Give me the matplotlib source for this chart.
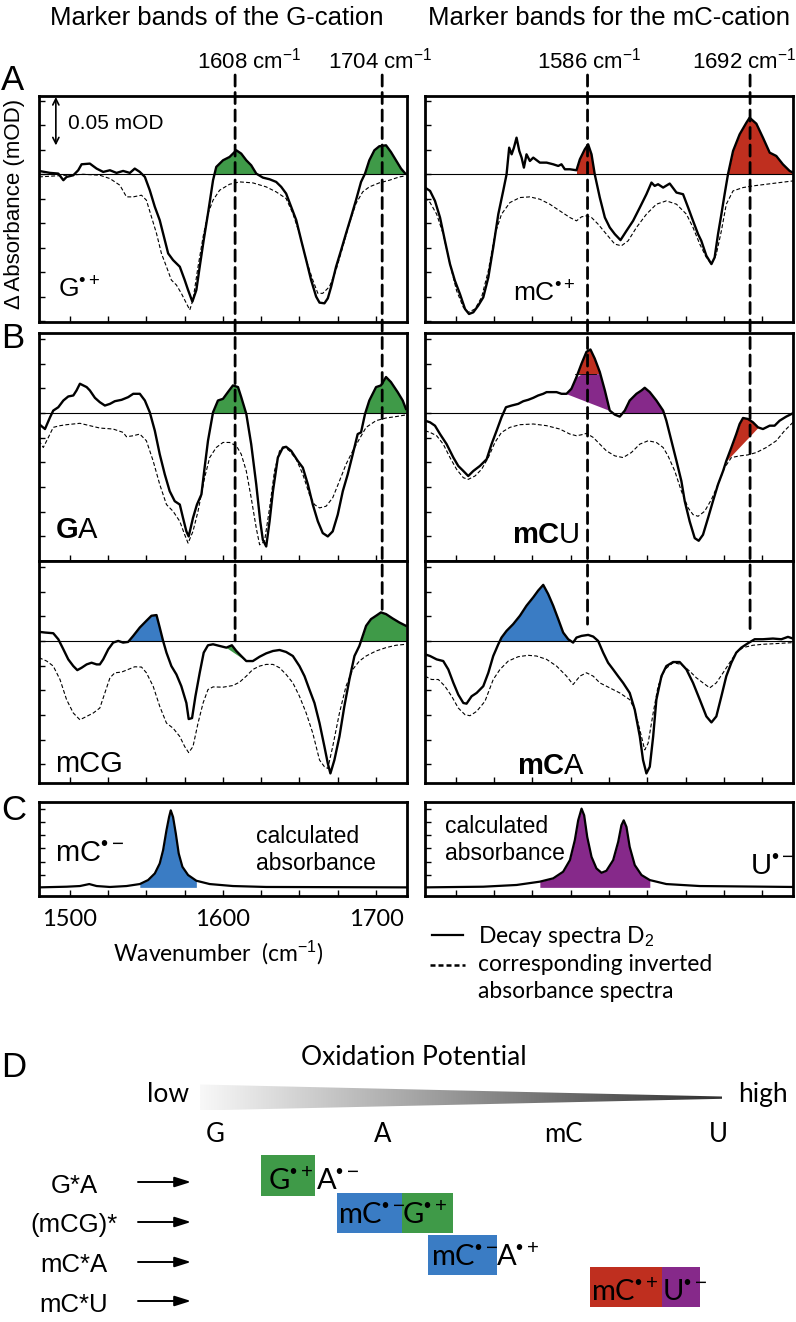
import numpy as np
import matplotlib
matplotlib.use("Agg")
import matplotlib.pyplot as plt
from matplotlib.patches import Rectangle, Polygon, ConnectionPatch
from matplotlib.ticker import FixedLocator, MultipleLocator
from matplotlib.colors import LinearSegmentedColormap

# ====================== DATA ======================
# (wavenumber cm^-1, delta absorbance mOD)
Gcat_D2 = [(1480.0,0.0034),(1487.2,0.0014),(1492.6,0.0007),(1495.9,-0.0061),(1498.0,-0.0027),(1502.4,-0.0010),(1505.6,0.0041),(1507.8,0.0102),(1513.2,0.0109),(1517.6,0.0058),(1521.9,0.0024),(1526.3,0.0041),(1530.6,0.0014),(1534.9,0.0034),(1539.3,0.0014),(1542.5,0.0058),(1545.8,0.0024),(1549.1,-0.0027),(1552.3,-0.0163),(1555.6,-0.0333),(1558.8,-0.0469),(1562.1,-0.0673),(1564.3,-0.0809),(1567.5,-0.0877),(1571.9,-0.0945),(1575.1,-0.1081),(1577.3,-0.1183),(1580.1,-0.1302),(1582.7,-0.1183),(1584.9,-0.0945),(1587.5,-0.0673),(1590.3,-0.0401),(1593.6,-0.0061),(1595.7,0.0075),(1600.1,0.0143),(1604.4,0.0177),(1608.8,0.0245),(1612.0,0.0211),(1615.3,0.0143),(1618.5,0.0092),(1621.8,0.0007),(1626.1,-0.0034),(1630.5,-0.0051),(1634.8,-0.0078),(1638.1,-0.0129),(1641.3,-0.0197),(1644.6,-0.0333),(1647.9,-0.0469),(1651.1,-0.0673),(1654.4,-0.0877),(1657.6,-0.1081),(1660.9,-0.1251),(1663.1,-0.1312),(1666.3,-0.1319),(1668.5,-0.1268),(1670.7,-0.1149),(1673.9,-0.0945),(1677.2,-0.0775),(1680.4,-0.0605),(1683.7,-0.0435),(1686.9,-0.0265),(1690.2,-0.0078),(1692.8,0.0007),(1695.6,0.0143),(1698.9,0.0245),(1702.1,0.0286),(1706.5,0.0296),(1709.7,0.0228),(1713.0,0.0143),(1716.3,0.0058),(1719.1,0.0007)]
Gcat_inv = [(1480.0,-0.0027),(1487.2,-0.0020),(1498.0,-0.0010),(1508.9,0.0),(1519.7,-0.0010),(1526.3,-0.0044),(1532.8,-0.0112),(1537.1,-0.0231),(1541.5,-0.0231),(1546.9,-0.0214),(1550.1,-0.0265),(1553.4,-0.0435),(1556.7,-0.0605),(1559.9,-0.0809),(1563.2,-0.0945),(1566.4,-0.1081),(1569.7,-0.1132),(1572.9,-0.1217),(1576.2,-0.1319),(1578.4,-0.1387),(1580.5,-0.1285),(1583.8,-0.0945),(1587.1,-0.0639),(1590.3,-0.0401),(1593.6,-0.0265),(1597.9,-0.0163),(1604.4,-0.0102),(1610.9,-0.0078),(1619.6,-0.0088),(1628.3,-0.0129),(1634.8,-0.0180),(1641.3,-0.0248),(1645.7,-0.0401),(1650.0,-0.0605),(1654.4,-0.0877),(1658.7,-0.1081),(1662.0,-0.1217),(1665.2,-0.1217),(1669.6,-0.1149),(1673.9,-0.0979),(1678.3,-0.0741),(1682.6,-0.0503),(1686.9,-0.0299),(1691.3,-0.0180),(1695.6,-0.0129),(1702.1,-0.0088),(1708.7,-0.0061),(1715.2,-0.0027),(1719.1,-0.0017)]

mCcat_D2 = [(1480.0,-0.0136),(1483.3,-0.0170),(1486.5,-0.0272),(1489.8,-0.0442),(1493.0,-0.0680),(1496.3,-0.0918),(1499.5,-0.1088),(1502.8,-0.1224),(1506.1,-0.1377),(1508.7,-0.1428),(1511.5,-0.1411),(1514.7,-0.1343),(1518.0,-0.1258),(1521.3,-0.1054),(1524.5,-0.0748),(1527.8,-0.0408),(1531.0,-0.0170),(1533.2,0.0),(1534.9,0.0272),(1536.5,0.0204),(1538.0,0.0272),(1539.7,0.0374),(1541.5,0.0238),(1543.0,0.0170),(1544.5,0.0068),(1546.2,0.0204),(1548.4,0.0136),(1550.6,0.0170),(1554.9,0.0119),(1559.3,0.0119),(1563.6,0.0102),(1566.9,0.0085),(1569.0,0.0102),(1571.2,0.0051),(1574.5,0.0051),(1578.8,0.0041),(1581.0,0.0153),(1584.2,0.0255),(1586.4,0.0306),(1588.6,0.0204),(1590.7,0.0),(1594.0,-0.0238),(1597.3,-0.0442),(1600.5,-0.0544),(1603.8,-0.0612),(1607.5,-0.0673),(1611.4,-0.0578),(1615.7,-0.0476),(1620.1,-0.0340),(1624.4,-0.0204),(1627.7,-0.0085),(1629.8,-0.0119),(1632.0,-0.0102),(1635.3,-0.0136),(1639.6,-0.0095),(1644.0,-0.0187),(1648.3,-0.0204),(1651.6,-0.0340),(1654.8,-0.0476),(1658.1,-0.0612),(1660.2,-0.0680),(1663.5,-0.0833),(1666.8,-0.0918),(1668.9,-0.0850),(1671.1,-0.0612),(1673.3,-0.0408),(1675.4,-0.0204),(1677.6,0.0),(1680.9,0.0238),(1685.2,0.0408),(1689.6,0.0527),(1691.7,0.0578),(1696.1,0.0517),(1700.4,0.0374),(1704.8,0.0221),(1709.1,0.0187),(1713.4,0.0102),(1717.8,0.0034),(1720.0,0.0017)]
mCcat_inv = [(1480.0,-0.0238),(1483.3,-0.0289),(1487.6,-0.0408),(1491.9,-0.0612),(1496.3,-0.0918),(1500.6,-0.1190),(1505.0,-0.1360),(1508.2,-0.1411),(1512.6,-0.1377),(1516.9,-0.1258),(1521.3,-0.0986),(1525.6,-0.0612),(1529.9,-0.0408),(1535.4,-0.0289),(1541.9,-0.0238),(1548.4,-0.0231),(1554.9,-0.0255),(1561.4,-0.0306),(1567.9,-0.0374),(1574.5,-0.0442),(1578.8,-0.0476),(1582.1,-0.0435),(1585.3,-0.0425),(1588.6,-0.0442),(1592.9,-0.0510),(1598.3,-0.0612),(1603.8,-0.0714),(1608.1,-0.0731),(1612.5,-0.0680),(1617.9,-0.0544),(1624.4,-0.0408),(1630.9,-0.0306),(1637.4,-0.0272),(1644.0,-0.0306),(1650.5,-0.0408),(1654.8,-0.0544),(1659.2,-0.0714),(1663.5,-0.0850),(1666.8,-0.0918),(1670.0,-0.0816),(1673.3,-0.0578),(1676.5,-0.0306),(1680.9,-0.0170),(1687.4,-0.0136),(1693.9,-0.0119),(1702.6,-0.0102),(1711.3,-0.0085),(1720.0,-0.0068)]

GA_D2 = [(1480.0,-0.0112),(1483.9,-0.0163),(1487.2,-0.0044),(1489.3,0.0024),(1492.6,0.0058),(1495.9,0.0126),(1499.1,0.0167),(1502.4,0.0177),(1504.5,0.0228),(1506.7,0.0296),(1508.9,0.0279),(1511.1,0.0262),(1513.2,0.0228),(1516.5,0.0153),(1519.7,0.0109),(1523.0,0.0075),(1526.3,0.0092),(1529.5,0.0119),(1533.9,0.0133),(1538.2,0.0160),(1541.5,0.0194),(1545.8,0.0194),(1549.1,0.0126),(1552.3,0.0007),(1555.6,-0.0180),(1558.8,-0.0418),(1562.1,-0.0622),(1565.3,-0.0792),(1568.6,-0.0894),(1571.9,-0.0928),(1574.0,-0.1064),(1576.2,-0.1200),(1577.7,-0.1251),(1580.5,-0.1064),(1583.1,-0.0928),(1586.0,-0.0826),(1588.1,-0.0554),(1590.3,-0.0282),(1593.6,0.0007),(1596.8,0.0126),(1600.1,0.0143),(1603.3,0.0211),(1606.6,0.0279),(1609.9,0.0262),(1612.0,0.0160),(1615.3,-0.0010),(1618.5,-0.0316),(1621.8,-0.0724),(1624.4,-0.1098),(1626.1,-0.1285),(1628.3,-0.1353),(1630.5,-0.1098),(1632.7,-0.0792),(1635.9,-0.0452),(1639.2,-0.0350),(1641.3,-0.0343),(1644.6,-0.0384),(1648.9,-0.0486),(1652.2,-0.0554),(1655.5,-0.0724),(1658.7,-0.0928),(1662.0,-0.1098),(1665.2,-0.1217),(1668.5,-0.1251),(1671.7,-0.1200),(1675.0,-0.1030),(1678.3,-0.0792),(1681.5,-0.0622),(1684.8,-0.0418),(1688.0,-0.0214),(1690.2,-0.0197),(1692.8,-0.0010),(1695.6,0.0126),(1700.0,0.0262),(1703.2,0.0279),(1706.5,0.0364),(1709.7,0.0313),(1714.1,0.0211),(1717.4,0.0126),(1719.5,0.0041)]
GA_inv = [(1480.0,-0.0282),(1482.8,-0.0350),(1486.1,-0.0248),(1489.3,-0.0146),(1493.7,-0.0129),(1498.0,-0.0119),(1506.7,-0.0105),(1513.2,-0.0129),(1519.7,-0.0153),(1528.4,-0.0163),(1534.9,-0.0197),(1537.1,-0.0241),(1541.5,-0.0231),(1545.8,-0.0214),(1550.1,-0.0282),(1554.5,-0.0486),(1558.8,-0.0724),(1563.2,-0.0928),(1567.5,-0.0996),(1571.9,-0.1098),(1575.1,-0.1234),(1577.3,-0.1319),(1580.5,-0.1200),(1583.8,-0.0996),(1588.1,-0.0656),(1591.4,-0.0452),(1595.7,-0.0350),(1600.1,-0.0299),(1604.4,-0.0299),(1608.8,-0.0333),(1612.0,-0.0418),(1615.3,-0.0588),(1618.5,-0.0860),(1621.8,-0.1166),(1624.0,-0.1336),(1627.2,-0.1302),(1630.5,-0.0962),(1633.7,-0.0588),(1637.0,-0.0384),(1640.3,-0.0350),(1643.5,-0.0384),(1647.9,-0.0469),(1652.2,-0.0622),(1656.5,-0.0826),(1659.8,-0.0928),(1663.1,-0.0962),(1667.4,-0.0945),(1671.7,-0.0860),(1676.1,-0.0690),(1680.4,-0.0520),(1684.8,-0.0384),(1689.1,-0.0265),(1693.5,-0.0146),(1700.0,-0.0078),(1706.5,-0.0051),(1713.0,-0.0037),(1719.5,-0.0020)]

mCG_D2 = [(1480.0,0.0092),(1483.9,0.0085),(1489.3,0.0078),(1492.6,0.0017),(1495.9,-0.0085),(1499.1,-0.0187),(1502.4,-0.0255),(1505.0,-0.0296),(1507.8,-0.0272),(1511.1,-0.0238),(1514.3,-0.0221),(1517.6,-0.0238),(1519.7,-0.0238),(1521.9,-0.0187),(1525.2,-0.0085),(1528.4,-0.0017),(1531.7,0.0),(1534.9,-0.0017),(1538.2,-0.0010),(1541.5,0.0051),(1545.8,0.0136),(1550.1,0.0204),(1553.4,0.0255),(1556.7,0.0262),(1558.8,0.0136),(1561.0,0.0),(1563.2,-0.0119),(1566.4,-0.0255),(1569.7,-0.0340),(1572.9,-0.0459),(1576.2,-0.0629),(1577.7,-0.0792),(1579.9,-0.0782),(1582.1,-0.0561),(1584.9,-0.0323),(1587.5,-0.0119),(1590.3,-0.0044),(1593.6,-0.0034),(1597.9,-0.0051),(1602.3,-0.0068),(1605.9,-0.0044),(1608.8,-0.0102),(1612.0,-0.0153),(1615.3,-0.0204),(1619.6,-0.0204),(1624.0,-0.0160),(1628.3,-0.0126),(1632.7,-0.0102),(1637.0,-0.0092),(1641.3,-0.0112),(1645.7,-0.0153),(1650.0,-0.0255),(1653.3,-0.0357),(1656.5,-0.0493),(1659.8,-0.0629),(1663.1,-0.0833),(1666.3,-0.1071),(1668.5,-0.1241),(1670.2,-0.1343),(1672.8,-0.1207),(1676.1,-0.0969),(1679.3,-0.0663),(1682.6,-0.0391),(1685.9,-0.0153),(1689.1,-0.0051),(1691.3,0.0051),(1693.5,0.0153),(1696.7,0.0221),(1700.0,0.0255),(1703.2,0.0289),(1706.5,0.0272),(1710.8,0.0228),(1715.2,0.0187),(1719.5,0.0153)]
mCG_inv = [(1480.0,-0.0170),(1485.0,-0.0204),(1489.3,-0.0255),(1493.7,-0.0391),(1498.0,-0.0595),(1502.4,-0.0731),(1506.7,-0.0799),(1511.1,-0.0765),(1515.4,-0.0731),(1519.7,-0.0680),(1523.0,-0.0527),(1526.3,-0.0374),(1529.5,-0.0323),(1533.9,-0.0316),(1538.2,-0.0289),(1542.5,-0.0262),(1546.9,-0.0265),(1550.1,-0.0323),(1554.5,-0.0459),(1558.8,-0.0663),(1563.2,-0.0833),(1567.5,-0.0884),(1571.9,-0.0969),(1575.1,-0.1071),(1577.7,-0.1132),(1580.5,-0.1071),(1583.8,-0.0833),(1587.1,-0.0629),(1590.3,-0.0493),(1593.6,-0.0466),(1600.1,-0.0469),(1606.6,-0.0452),(1610.9,-0.0418),(1615.3,-0.0357),(1619.6,-0.0289),(1624.0,-0.0255),(1628.3,-0.0238),(1632.7,-0.0238),(1637.0,-0.0272),(1641.3,-0.0340),(1645.7,-0.0425),(1650.0,-0.0561),(1654.4,-0.0731),(1658.7,-0.0935),(1663.1,-0.1207),(1666.3,-0.1275),(1668.5,-0.1292),(1671.7,-0.1071),(1676.1,-0.0731),(1680.4,-0.0459),(1684.8,-0.0289),(1689.1,-0.0204),(1693.5,-0.0153),(1700.0,-0.0102),(1706.5,-0.0068),(1713.0,-0.0044),(1719.5,-0.0034)]

mCU_D2 = [(1480.0,-0.0078),(1483.3,-0.0095),(1486.5,-0.0129),(1489.8,-0.0214),(1494.1,-0.0316),(1498.5,-0.0452),(1501.7,-0.0537),(1505.0,-0.0588),(1508.2,-0.0639),(1511.5,-0.0588),(1515.8,-0.0537),(1520.2,-0.0469),(1523.4,-0.0316),(1526.7,-0.0180),(1529.9,-0.0044),(1532.8,0.0058),(1536.5,0.0075),(1540.8,0.0092),(1544.1,0.0119),(1547.3,0.0133),(1550.6,0.0153),(1553.8,0.0177),(1557.1,0.0194),(1559.3,0.0211),(1562.5,0.0211),(1565.8,0.0211),(1569.0,0.0194),(1572.3,0.0194),(1575.5,0.0245),(1578.8,0.0364),(1582.1,0.0500),(1585.3,0.0619),(1587.9,0.0643),(1590.7,0.0551),(1594.0,0.0415),(1597.3,0.0228),(1600.5,0.0024),(1603.8,-0.0017),(1607.0,-0.0037),(1610.3,0.0024),(1613.5,0.0126),(1617.9,0.0194),(1621.2,0.0228),(1623.3,0.0255),(1626.6,0.0211),(1630.9,0.0126),(1635.3,0.0024),(1637.4,-0.0078),(1640.7,-0.0282),(1644.0,-0.0486),(1647.2,-0.0690),(1649.4,-0.0894),(1652.6,-0.1098),(1655.9,-0.1268),(1658.5,-0.1295),(1661.3,-0.1234),(1664.6,-0.1064),(1667.8,-0.0894),(1671.1,-0.0724),(1674.4,-0.0588),(1676.5,-0.0486),(1679.8,-0.0350),(1683.0,-0.0214),(1685.2,-0.0112),(1687.4,-0.0051),(1690.6,-0.0061),(1693.9,-0.0095),(1697.2,-0.0146),(1700.4,-0.0163),(1704.8,-0.0129),(1708.0,-0.0129),(1711.3,-0.0078),(1715.6,-0.0037),(1720.0,-0.0003)]
mCU_inv = [(1480.0,-0.0180),(1483.3,-0.0197),(1487.6,-0.0231),(1491.9,-0.0316),(1496.3,-0.0452),(1500.6,-0.0571),(1505.0,-0.0656),(1508.2,-0.0673),(1512.6,-0.0639),(1516.9,-0.0571),(1521.3,-0.0452),(1525.6,-0.0299),(1529.9,-0.0197),(1535.4,-0.0146),(1541.9,-0.0119),(1550.6,-0.0112),(1559.3,-0.0129),(1567.9,-0.0163),(1574.5,-0.0214),(1578.8,-0.0231),(1582.1,-0.0221),(1585.3,-0.0207),(1589.7,-0.0248),(1594.0,-0.0316),(1598.3,-0.0384),(1603.8,-0.0435),(1609.2,-0.0452),(1614.6,-0.0401),(1620.1,-0.0316),(1625.5,-0.0282),(1630.9,-0.0299),(1635.3,-0.0350),(1638.5,-0.0435),(1642.9,-0.0588),(1647.2,-0.0792),(1651.6,-0.0962),(1654.8,-0.1030),(1658.1,-0.1047),(1662.4,-0.0996),(1666.8,-0.0877),(1671.1,-0.0724),(1675.4,-0.0554),(1679.8,-0.0452),(1685.2,-0.0435),(1690.6,-0.0425),(1696.1,-0.0401),(1702.6,-0.0350),(1709.1,-0.0282),(1714.5,-0.0180),(1720.0,-0.0095)]

mCA_D2 = [(1480.0,-0.0136),(1483.3,-0.0153),(1487.6,-0.0187),(1491.9,-0.0204),(1495.2,-0.0289),(1498.5,-0.0425),(1501.7,-0.0544),(1505.0,-0.0629),(1507.1,-0.0636),(1510.4,-0.0561),(1513.7,-0.0527),(1518.0,-0.0459),(1521.3,-0.0323),(1524.5,-0.0153),(1527.8,-0.0034),(1529.9,0.0034),(1533.2,0.0102),(1537.5,0.0170),(1541.9,0.0255),(1546.2,0.0357),(1550.6,0.0442),(1553.8,0.0510),(1557.1,0.0568),(1560.3,0.0476),(1563.6,0.0357),(1566.9,0.0221),(1570.1,0.0085),(1573.4,0.0017),(1576.6,-0.0017),(1578.8,0.0034),(1582.1,0.0051),(1586.4,0.0061),(1589.7,0.0044),(1592.9,0.0),(1596.2,-0.0119),(1599.4,-0.0221),(1602.7,-0.0289),(1605.9,-0.0357),(1609.2,-0.0425),(1613.5,-0.0527),(1616.8,-0.0697),(1620.1,-0.0969),(1622.2,-0.1207),(1624.4,-0.1343),(1626.6,-0.1275),(1628.8,-0.0969),(1630.9,-0.0595),(1634.2,-0.0357),(1637.4,-0.0255),(1641.8,-0.0214),(1646.1,-0.0214),(1650.5,-0.0289),(1654.8,-0.0425),(1659.2,-0.0595),(1663.5,-0.0765),(1666.8,-0.0826),(1670.0,-0.0765),(1673.3,-0.0561),(1676.5,-0.0357),(1679.8,-0.0221),(1683.0,-0.0119),(1686.3,-0.0068),(1690.6,-0.0024),(1695.0,0.0017),(1700.4,0.0017),(1706.9,0.0024),(1712.4,0.0017),(1716.7,0.0041),(1720.0,0.0024)]
mCA_inv = [(1480.0,-0.0357),(1484.3,-0.0391),(1488.7,-0.0391),(1493.0,-0.0459),(1497.4,-0.0561),(1501.7,-0.0680),(1506.1,-0.0748),(1509.3,-0.0758),(1513.7,-0.0714),(1519.1,-0.0612),(1524.5,-0.0391),(1528.9,-0.0289),(1534.3,-0.0204),(1540.8,-0.0160),(1547.3,-0.0146),(1552.7,-0.0153),(1559.3,-0.0187),(1565.8,-0.0255),(1572.3,-0.0357),(1576.6,-0.0442),(1581.0,-0.0357),(1585.3,-0.0323),(1589.7,-0.0357),(1594.0,-0.0425),(1600.5,-0.0476),(1607.0,-0.0527),(1613.5,-0.0595),(1616.8,-0.0697),(1620.1,-0.0901),(1623.3,-0.1105),(1625.5,-0.1037),(1628.8,-0.0731),(1632.0,-0.0459),(1636.4,-0.0289),(1641.8,-0.0221),(1647.2,-0.0238),(1652.6,-0.0306),(1657.0,-0.0374),(1661.3,-0.0425),(1665.7,-0.0476),(1670.0,-0.0425),(1674.4,-0.0323),(1678.7,-0.0221),(1683.0,-0.0119),(1687.4,-0.0068),(1693.9,-0.0044),(1700.4,-0.0034),(1709.1,-0.0027),(1720.0,-0.0017)]

# calculated absorbance (arbitrary units)
mC_anion_calc = [(1480.0,0.0),(1498.0,0.05),(1506.7,0.10),(1512.8,0.25),(1517.6,0.10),(1526.3,0.03),(1537.1,0.10),(1545.8,0.25),(1551.2,0.55),(1555.6,1.05),(1558.8,1.8),(1561.0,2.8),(1563.2,4.3),(1564.9,5.3),(1566.0,5.8),(1567.5,5.3),(1569.3,4.05),(1571.2,2.55),(1573.6,1.55),(1577.3,0.93),(1582.7,0.5),(1591.4,0.25),(1606.6,0.10),(1628.3,0.03),(1719.5,0.0)]
U_anion_calc = [(1480.0,0.0),(1518.0,0.05),(1539.7,0.18),(1554.9,0.43),(1563.6,0.68),(1570.1,1.18),(1574.5,2.05),(1577.7,3.55),(1579.9,5.05),(1582.1,5.93),(1583.8,5.43),(1585.8,3.8),(1588.6,2.3),(1591.8,1.43),(1595.1,1.1),(1598.3,1.25),(1602.7,2.05),(1606.0,3.43),(1608.1,4.68),(1609.6,5.05),(1611.4,4.55),(1613.5,3.05),(1616.8,1.68),(1621.2,0.93),(1626.6,0.55),(1637.4,0.25),(1659.2,0.10),(1720.0,0.03)]

markers_G = [1608, 1704]
markers_mC = [1586, 1692]
xtick_labels = [1500, 1600, 1700]
mCU_split_level = 0.0398

D_bases = ["G", "A", "mC", "U"]
D_pairs = ["G*A", "(mCG)*", "mC*A", "mC*U"]

# ====================== STYLE ======================
GREEN, BLUE, RED, PURPLE = "#3f9a48", "#3a7cc4", "#bf2f1f", "#86298a"
SANS = ["Liberation Sans", "DejaVu Sans"]
MYR = ["Lato", "DejaVu Sans"]
plt.rcParams["font.family"] = SANS
plt.rcParams["mathtext.fontset"] = "custom"
plt.rcParams["mathtext.rm"] = "Liberation Sans"
plt.rcParams["mathtext.bf"] = "Liberation Sans:bold"
plt.rcParams["mathtext.it"] = "Liberation Sans:italic"
plt.rcParams["mathtext.sf"] = "Liberation Sans"

BUL = "\u2022"
SUP_P = "$^{" + BUL + "+}$"
SUP_M = "$^{" + BUL + "-}$"

W, H = 796, 1322
fig = plt.figure(figsize=(W / 100, H / 100), dpi=100)


def rect(x0, y0, x1, y1):
    return [x0 / W, 1 - y1 / H, (x1 - x0) / W, (y1 - y0) / H]


LX, RX = (39, 406.7), (425, 793)
ROWS = {"A": (96, 322), "B1": (333, 561), "B2": (561, 783), "C": (802, 896)}
YLIM = {"A": (-0.151, 0.080), "B1": (-0.150, 0.081), "B2": (-0.144, 0.081), "C": (-0.65, 6.43)}
XLIM = (1480, 1720)


def make_ax(col, row):
    xs = LX if col == "L" else RX
    y0, y1 = ROWS[row]
    ax = fig.add_axes(rect(xs[0], y0, xs[1], y1))
    ax.set_xlim(*XLIM)
    ax.set_ylim(*YLIM[row])
    for s in ax.spines.values():
        s.set_linewidth(2.0)
    ax.xaxis.set_major_locator(FixedLocator(xtick_labels))
    ax.xaxis.set_minor_locator(MultipleLocator(25))
    if row == "C":
        ax.yaxis.set_major_locator(FixedLocator([0.93, 1.93, 2.93, 3.93, 4.93, 5.93]))
    else:
        ax.yaxis.set_major_locator(MultipleLocator(0.025))
    ax.tick_params(which="both", direction="in", length=4, width=1.0, top=False, right=False,
                   labelleft=False, labelbottom=False)
    return ax


def spectrum(ax, decay, inv):
    x, y = np.array(decay).T
    xi, yi = np.array(inv).T
    ax.axhline(0, color="k", lw=0.8, zorder=2)
    ax.plot(xi, yi, color="k", lw=0.8, ls=(0, (3.5, 2.0)), zorder=3)
    ax.plot(x, y, color="k", lw=1.7, zorder=4, solid_joinstyle="round")
    return x, y


def band_zero(ax, x, y, lo, hi, color):
    m = (x >= lo) & (x <= hi)
    xs, ys = x[m], y[m]
    ax.fill_between(xs, 0, ys, where=ys >= 0, interpolate=True, color=color, lw=0, zorder=1)


def band_chord(ax, x, y, lo, hi, color, cap=None):
    m = (x >= lo) & (x <= hi)
    xs, ys = x[m], y[m]
    base = np.interp(xs, [xs[0], xs[-1]], [ys[0], ys[-1]])
    top = ys if cap is None else np.minimum(ys, cap)
    ax.fill_between(xs, base, top, where=top >= base, interpolate=True, color=color, lw=0, zorder=1)


def band_above(ax, x, y, lo, hi, level, color):
    m = (x >= lo) & (x <= hi)
    xs, ys = x[m], y[m]
    ax.fill_between(xs, level, ys, where=ys >= level, interpolate=True, color=color, lw=0, zorder=1)


# ---- A ----
axAL = make_ax("L", "A")
x, y = spectrum(axAL, Gcat_D2, Gcat_inv)
band_zero(axAL, x, y, 1590, 1625, GREEN)
band_zero(axAL, x, y, 1690, 1720, GREEN)
axAL.annotate("", xy=(1491, 0.0790), xytext=(1491, 0.0295),
              arrowprops=dict(arrowstyle="<->", lw=1.2, color="k", mutation_scale=11, shrinkA=0, shrinkB=0))
axAL.text(1499, 0.052, "0.05 mOD", fontsize=15, va="center", ha="left")

axAR = make_ax("R", "A")
x, y = spectrum(axAR, mCcat_D2, mCcat_inv)
band_zero(axAR, x, y, 1578.8, 1592, RED)
band_zero(axAR, x, y, 1675, 1720, RED)

# ---- B ----
axB1L = make_ax("L", "B1")
x, y = spectrum(axB1L, GA_D2, GA_inv)
band_zero(axB1L, x, y, 1590, 1617, GREEN)
band_zero(axB1L, x, y, 1690, 1720, GREEN)

axB2L = make_ax("L", "B2")
x, y = spectrum(axB2L, mCG_D2, mCG_inv)
band_zero(axB2L, x, y, 1538.2, 1562, BLUE)
band_chord(axB2L, x, y, 1602.3, 1615.3, GREEN)
band_zero(axB2L, x, y, 1685, 1720, GREEN)

axB1R = make_ax("R", "B1")
x, y = spectrum(axB1R, mCU_D2, mCU_inv)
band_above(axB1R, x, y, 1572.3, 1600.5, mCU_split_level, RED)
band_chord(axB1R, x, y, 1572.3, 1600.5, PURPLE, cap=mCU_split_level)
band_zero(axB1R, x, y, 1607, 1637.4, PURPLE)
band_chord(axB1R, x, y, 1676.5, 1697.2, RED)
axB1R.plot([1578.0, 1591.5], [mCU_split_level] * 2, color="k", lw=0.6, zorder=2)

axB2R = make_ax("R", "B2")
x, y = spectrum(axB2R, mCA_D2, mCA_inv)
band_zero(axB2R, x, y, 1527.8, 1576.6, BLUE)

# ---- C ----
axCL = make_ax("L", "C")
xc, yc = np.array(mC_anion_calc).T
axCL.plot(xc, yc, color="k", lw=1.6, zorder=4)
m = (xc >= 1545.8) & (xc <= 1582.7)
axCL.fill_between(xc[m], 0, yc[m], color=BLUE, lw=0, zorder=1)
axCL.tick_params(axis="x", which="major", labelbottom=True, labelsize=17, pad=9)
for lab in axCL.get_xticklabels():
    lab.set_family(MYR)

axCR = make_ax("R", "C")
xc, yc = np.array(U_anion_calc).T
axCR.plot(xc, yc, color="k", lw=1.6, zorder=4)
m = (xc >= 1554.9) & (xc <= 1626.6)
axCR.fill_between(xc[m], 0, yc[m], color=PURPLE, lw=0, zorder=1)

# ---- vertical marker lines spanning panels ----
for wn, yend in zip(markers_G, [0.0, 0.032]):
    fig.add_artist(ConnectionPatch(xyA=(wn, 1.093), coordsA=axAL.get_xaxis_transform(),
                                   xyB=(wn, yend), coordsB=axB2L.transData,
                                   color="k", lw=2.0, linestyle=(0, (4, 2.3)), zorder=5))
for wn, yend in zip(markers_mC, [0.017, 0.0068]):
    fig.add_artist(ConnectionPatch(xyA=(wn, 1.093), coordsA=axAR.get_xaxis_transform(),
                                   xyB=(wn, yend), coordsB=axB2R.transData,
                                   color="k", lw=2.0, linestyle=(0, (4, 2.3)), zorder=5))

# ====================== OVERLAY (text, legend, panel D) ======================
ov = fig.add_axes([0, 0, 1, 1])
ov.set_autoscale_on(False)
ov.set_xlim(0, W)
ov.set_ylim(H, 0)
ov.axis("off")


def T(x, y, s, size, fam=SANS, ha="left", va="baseline", **kw):
    ov.text(x, y, s, fontsize=size, family=fam, ha=ha, va=va, **kw)


# titles
T(50, 25, "Marker bands of the G-cation", 18.5)
T(428, 25, "Marker bands for the mC-cation", 18.5)
T(197, 68, "%d cm$^{-1}$" % markers_G[0], 16)
T(328, 68, "%d cm$^{-1}$" % markers_G[1], 16)
T(537, 68, "%d cm$^{-1}$" % markers_mC[0], 16)
T(692, 68, "%d cm$^{-1}$" % markers_mC[1], 16)

# panel letters
T(1, 90, "A", 25)
T(1, 348, "B", 25)
T(1, 820, "C", 25)
T(1, 1077, "D", 25)

# y label
ov.text(15, 204, "\u0394 Absorbance (mOD)", fontsize=16, rotation=90, ha="center", va="center", family=SANS)

# in-panel labels
T(58, 297, "G" + SUP_P, 19)
T(513, 302, "mC" + SUP_P, 19)
T(55, 538, "$\\mathbf{G}$A", 21)
T(55, 772, "mCG", 21)
T(512, 543, "$\\mathbf{mC}$U", 21)
T(517, 774, "$\\mathbf{mC}$A", 21)
T(55, 862, "mC" + SUP_M, 21)
T(256, 843, "calculated", 16.5)
T(256, 870, "absorbance", 16.5)
T(445, 833, "calculated", 16.5)
T(445, 860, "absorbance", 16.5)
T(750, 875, "U" + SUP_M, 21)

# x label
T(218, 953, "Wavenumber  (cm$^{-1}$)", 16.5, fam=MYR, ha="center", va="center")

# legend
ov.plot([432, 463], [935, 935], color="k", lw=1.6)
ov.plot([430, 465], [965, 965], color="k", lw=1.8, ls=(0, (2.0, 1.2)))
T(478, 943, "Decay spectra D$_2$", 16.5, fam=MYR)
T(478, 971, "corresponding inverted", 16.5, fam=MYR)
T(478, 998, "absorbance spectra", 16.5, fam=MYR)

# ---- panel D ----
T(414, 1065, "Oxidation Potential", 19, fam=MYR, ha="center")
T(147, 1102, "low", 19, fam=MYR)
T(738, 1102, "high", 19, fam=MYR)

cmap = LinearSegmentedColormap.from_list("ox", ["#f8f8f8", "#303030"])
grad = np.linspace(0, 1, 256)[None, :]
im = ov.imshow(grad, extent=(200, 722, 1110.5, 1084.5), cmap=cmap, aspect="auto", zorder=1,
               interpolation="bilinear")
wedge = Polygon([(200, 1084.5), (722, 1096.5), (722, 1098.8), (200, 1110.5)], closed=True,
                facecolor="none", edgecolor="none", transform=ov.transData)
ov.add_patch(wedge)
im.set_clip_path(wedge)
ov.set_xlim(0, W)
ov.set_ylim(H, 0)

for name, xc_ in zip(D_bases, [215, 383, 563, 718]):
    T(xc_, 1142, name, 18.5, fam=MYR, ha="center")

for name, yb, ya in zip(D_pairs, [1193, 1232, 1272, 1312], [1182, 1222, 1262, 1301]):
    T(74, yb, name, 18.5, ha="center")
    ov.annotate("", xy=(191, ya), xytext=(138, ya),
                arrowprops=dict(arrowstyle="-|>,head_length=0.7,head_width=0.22", lw=1.4,
                                color="k", mutation_scale=14, shrinkA=0, shrinkB=0))

boxes = [(261, 315, 1155, 1196, GREEN), (337, 402, 1193, 1233, BLUE), (402, 453, 1193, 1233, GREEN),
         (428, 497, 1235, 1275, BLUE), (590, 662, 1267, 1307, RED), (662, 700, 1267, 1307, PURPLE)]
for x0, x1, y0, y1, c in boxes:
    ov.add_patch(Rectangle((x0, y0), x1 - x0, y1 - y0, facecolor=c, edgecolor="none", zorder=1))

species = [("G" + SUP_P, 268, 1190), ("A" + SUP_M, 316, 1190),
           ("mC" + SUP_M, 338, 1224), ("G" + SUP_P, 402, 1224),
           ("mC" + SUP_M, 431, 1266), ("A" + SUP_P, 496, 1266),
           ("mC" + SUP_P, 591, 1301), ("U" + SUP_M, 662, 1301)]
for s, xx, yy in species:
    T(xx, yy, s, 21, fam=MYR, zorder=3)

fig.savefig("out.png", dpi=100)
